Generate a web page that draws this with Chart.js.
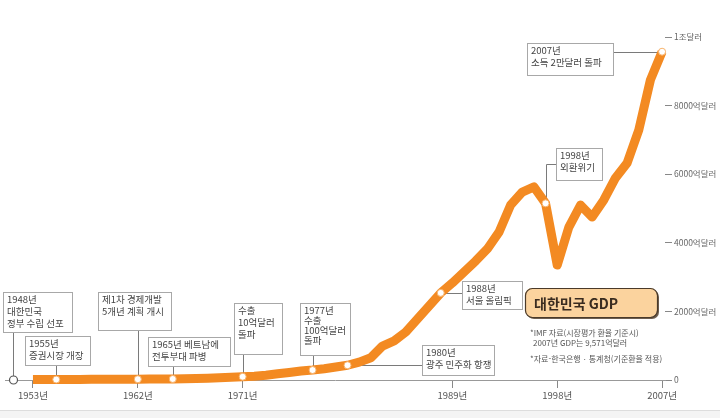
<!DOCTYPE html>
<html lang="ko">
<head>
<meta charset="utf-8">
<script src="https://cdn.jsdelivr.net/npm/chart.js@4.4.1/dist/chart.umd.min.js"></script>
<style>
  html, body { margin: 0; padding: 0; background: #fff; }
  #wrap { width: 720px; height: 418px; }
</style>
</head>
<body>
<div id="wrap"><canvas id="gdpChart" width="720" height="418"></canvas></div>
<script>
// 대한민국 GDP (억달러)
const years = [1953, 1954, 1955, 1956, 1957, 1958, 1959, 1960, 1961, 1962,
  1963, 1964, 1965, 1966, 1967, 1968, 1969, 1970, 1971, 1972,
  1973, 1974, 1975, 1976, 1977, 1978, 1979, 1980, 1981, 1982,
  1983, 1984, 1985, 1986, 1987, 1988, 1989, 1990, 1991, 1992,
  1993, 1994, 1995, 1996, 1997, 1998, 1999, 2000, 2001, 2002,
  2003, 2004, 2005, 2006, 2007];
const gdp = [13, 15, 14, 14, 17, 19, 19, 20, 21, 23,
  27, 29, 30, 37, 43, 52, 66, 81, 95, 110,
  140, 180, 220, 260, 290, 330, 380, 430, 520, 650,
  990, 1140, 1400, 1780, 2160, 2540, 2830, 3150, 3470, 3820,
  4310, 5100, 5480, 5630, 5150, 3350, 4460, 5100, 4750, 5250,
  5890, 6330, 7290, 8750, 9571];

const tickYears = [1953, 1962, 1971, 1989, 1998, 2007];
const valueTicks = [0, 2000, 4000, 6000, 8000, 10000];

// events marked on the curve
const noteYears = [1955, 1962, 1965, 1971, 1977, 1980, 1988, 1997, 2007];
const noteTexts = [
  ['1955년', '증권시장 개장'],
  ['제1차 경제개발', '5개년 계획 개시'],
  ['1965년 베트남에', '전투부대 파병'],
  ['수출', '10억달러', '돌파'],
  ['1977년', '수출', '100억달러', '돌파'],
  ['1980년', '광주 민주화 항쟁'],
  ['1988년', '서울 올림픽'],
  ['1998년', '외환위기'],
  ['2007년', '소득 2만달러 돌파']
];
const originText = ['1948년', '대한민국', '정부 수립 선포'];

// callout box layout: [left, top, width, height, leader style, line step]
const noteBoxes = [
  [25, 336, 65, 29, 'v', 12],
  [98, 292, 73, 38, 'v', 12],
  [148, 337, 82, 29, 'v', 12],
  [234, 303, 48, 51, 'v', 12],
  [300, 303, 50, 52, 'v', 10],
  [422, 345, 72, 30, 'h', 12],
  [462, 281, 60, 28, 'h', 12],
  [556, 148, 46, 32, 'vh', 12],
  [527, 43, 86, 32, 'h', 12]
];
const originBox = [3, 292, 69, 40, 'v', 12];

const orange = '#F38A22';
const font = "'Noto Sans CJK KR', 'Noto Sans', sans-serif";

const notesPlugin = {
  id: 'notes',
  beforeDraw(chart) {
    const ctx = chart.ctx;
    ctx.save();
    ctx.fillStyle = '#f4f4f4';
    ctx.fillRect(0, 410, chart.width, chart.height - 410);
    ctx.strokeStyle = '#dddddd';
    ctx.beginPath();
    ctx.moveTo(0, 410.5);
    ctx.lineTo(chart.width, 410.5);
    ctx.stroke();
    ctx.restore();
  },
  beforeDatasetsDraw(chart) {
    const ctx = chart.ctx;
    const xs = chart.scales.x, ys = chart.scales.y;
    ctx.save();
    ctx.strokeStyle = '#7a7a7a';
    ctx.lineWidth = 1;
    noteYears.forEach((yr, i) => {
      const mx = Math.round(xs.getPixelForValue(yr)) + 0.5;
      const my = ys.getPixelForValue(gdp[years.indexOf(yr)]);
      const [l, t, w, h, kind] = noteBoxes[i];
      ctx.beginPath();
      if (kind === 'v') {
        ctx.moveTo(mx, my);
        ctx.lineTo(mx, t + h);
      } else if (kind === 'h') {
        const yy = Math.round(my) + 0.5;
        ctx.moveTo(mx, yy);
        ctx.lineTo(l > mx ? l : l + w, yy);
      } else {
        const yy = Math.round(t + h / 2) + 0.5;
        ctx.moveTo(mx, my);
        ctx.lineTo(mx, yy);
        ctx.lineTo(l, yy);
      }
      ctx.stroke();
    });
    ctx.restore();
  },
  afterDatasetsDraw(chart) {
    const ctx = chart.ctx;
    const xs = chart.scales.x, ys = chart.scales.y;

    const drawBox = (box, lines) => {
      const [l, t, w, h, , step] = box;
      ctx.fillStyle = '#ffffff';
      ctx.fillRect(l, t, w, h);
      ctx.strokeStyle = '#a8a8a8';
      ctx.lineWidth = 1;
      ctx.strokeRect(l + 0.5, t + 0.5, w, h);
      ctx.fillStyle = '#444';
      ctx.font = '9.5px ' + font;
      ctx.textBaseline = 'top';
      ctx.textAlign = 'left';
      lines.forEach((s, k) => ctx.fillText(s, l + 4, t + 3 + k * step));
    };

    ctx.save();
    noteYears.forEach((yr, i) => drawBox(noteBoxes[i], noteTexts[i]));

    // 1948 origin mark on the axis
    const ox = xs.left + 8, oy = ys.getPixelForValue(0);
    ctx.strokeStyle = '#7a7a7a';
    ctx.lineWidth = 1;
    ctx.beginPath();
    ctx.moveTo(ox + 0.5, oy - 4);
    ctx.lineTo(ox + 0.5, originBox[1] + originBox[3]);
    ctx.stroke();
    drawBox(originBox, originText);
    ctx.beginPath();
    ctx.arc(ox + 0.5, oy, 4, 0, Math.PI * 2);
    ctx.fillStyle = '#fff';
    ctx.fill();
    ctx.strokeStyle = '#555';
    ctx.lineWidth = 1.2;
    ctx.stroke();

    // title box
    const tl = 525, tt = 288, tw = 132, th = 29, r = 7;
    ctx.save();
    ctx.shadowColor = 'rgba(60,40,20,0.75)';
    ctx.shadowOffsetX = 2;
    ctx.shadowOffsetY = 2;
    ctx.beginPath();
    ctx.roundRect(tl, tt, tw, th, r);
    ctx.fillStyle = '#FBD39E';
    ctx.fill();
    ctx.restore();
    ctx.beginPath();
    ctx.roundRect(tl + 0.5, tt + 0.5, tw, th, r);
    ctx.strokeStyle = '#4a3a2a';
    ctx.lineWidth = 1.2;
    ctx.stroke();
    ctx.fillStyle = '#3a2c20';
    ctx.font = 'bold 14px ' + font;
    ctx.textBaseline = 'middle';
    ctx.fillText('대한민국 GDP', tl + 9, tt + th / 2 + 1);

    // source notes
    ctx.fillStyle = '#555';
    ctx.font = '8px ' + font;
    ctx.textBaseline = 'middle';
    ctx.fillText('*IMF 자료(시장평가 환율 기준시)', 530, 333);
    ctx.fillText('2007년 GDP는 9,571억달러', 533, 343);
    ctx.fillText('*자료-한국은행 · 통계청(기준환율 적용)', 530, 359);
    ctx.restore();
  }
};

const lineData = years.map((yr, i) => ({ x: yr, y: gdp[i] }));
const markData = noteYears.map(yr => ({ x: yr, y: gdp[years.indexOf(yr)] }));

new Chart(document.getElementById('gdpChart'), {
  type: 'line',
  data: {
    datasets: [
      {
        data: markData,
        showLine: false,
        pointRadius: 3.5,
        pointBackgroundColor: '#ffffff',
        pointBorderColor: '#f7b26a',
        pointBorderWidth: 1,
        clip: false,
        order: 0
      },
      {
        data: lineData,
        borderColor: orange,
        borderWidth: 9,
        borderCapStyle: 'butt',
        borderJoinStyle: 'round',
        pointRadius: 0,
        tension: 0,
        fill: false,
        clip: false,
        order: 1
      }
    ]
  },
  options: {
    responsive: false,
    animation: false,
    layout: { padding: { left: 5, top: 37, right: 0, bottom: 0 } },
    plugins: { legend: { display: false }, tooltip: { enabled: false } },
    scales: {
      x: {
        type: 'linear',
        min: 1950.6,
        max: 2007.25,
        afterBuildTicks: (scale) => { scale.ticks = tickYears.map(v => ({ value: v })); },
        afterFit: (scale) => { scale.height = 38; },
        grid: { drawOnChartArea: false, drawTicks: true, tickLength: 8, color: '#888' },
        border: { display: true, color: '#999', width: 1 },
        ticks: {
          autoSkip: false,
          maxRotation: 0,
          padding: 2,
          color: '#555',
          font: { family: font, size: 9.5 },
          callback: (v) => v + '년'
        }
      },
      y: {
        position: 'right',
        min: 0,
        max: 10000,
        afterBuildTicks: (scale) => { scale.ticks = valueTicks.map(v => ({ value: v })); },
        afterFit: (scale) => { scale.width = 55; },
        grid: { drawOnChartArea: false, drawTicks: true, tickLength: 7, color: '#888' },
        border: { display: false },
        ticks: {
          padding: 2,
          color: '#666',
          font: { family: font, size: 8.5 },
          callback: (v) => v === 0 ? '0' : v === 10000 ? '1조달러' : v + '억달러'
        }
      }
    }
  },
  plugins: [notesPlugin]
});
</script>
</body>
</html>
